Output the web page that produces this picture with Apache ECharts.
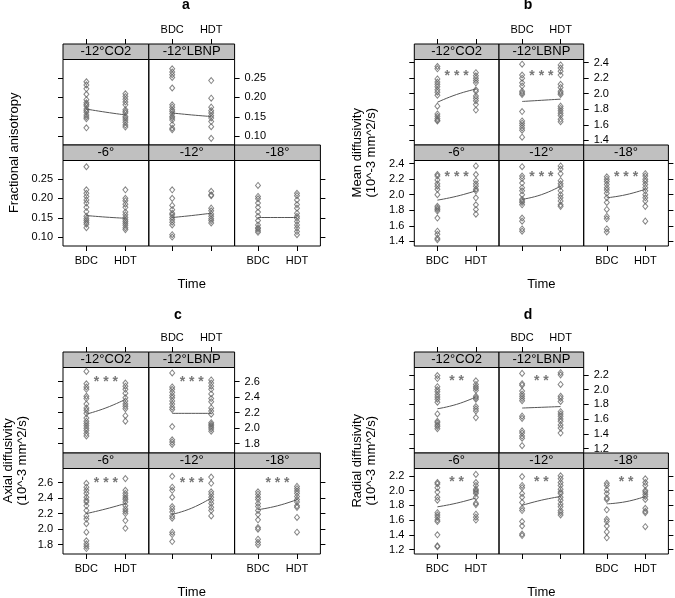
<!DOCTYPE html>
<html>
<head>
<meta charset="utf-8">
<script src="https://cdn.jsdelivr.net/npm/echarts@6/dist/echarts.min.js"></script>
<style>
  html, body { margin: 0; padding: 0; background: #fff; }
  #chart { width: 675px; height: 598px; }
</style>
</head>
<body>
<div id="chart"></div>
<script>
// 条件和时间点
const conditions = ['-12°CO2', '-12°LBNP', '-6°', '-12°', '-18°']
const times = ['BDC', 'HDT']
// 平滑线的取值位置：BDC、中点、HDT
const smoothX = [1, 1.5, 2]

// a: Fractional anisotropy
const faBDC = [
  [0.240, 0.232, 0.222, 0.208, 0.194, 0.186, 0.182, 0.178, 0.170, 0.166, 0.162, 0.155, 0.150, 0.145, 0.122],
  [0.273, 0.265, 0.258, 0.251, 0.224, 0.181, 0.175, 0.168, 0.164, 0.158, 0.151, 0.147, 0.142, 0.130, 0.121, 0.117],
  [0.281, 0.222, 0.213, 0.205, 0.196, 0.188, 0.177, 0.166, 0.154, 0.148, 0.143, 0.138, 0.134, 0.125],
  [0.222, 0.200, 0.182, 0.171, 0.162, 0.158, 0.151, 0.145, 0.139, 0.132, 0.107, 0.101],
  [0.233, 0.205, 0.199, 0.188, 0.177, 0.165, 0.154, 0.143, 0.132, 0.125, 0.122, 0.117, 0.113]
]
const faHDT = [
  [0.209, 0.202, 0.195, 0.188, 0.181, 0.168, 0.164, 0.160, 0.151, 0.147, 0.142, 0.136, 0.129, 0.124],
  [0.243, 0.198, 0.175, 0.166, 0.160, 0.153, 0.147, 0.138, 0.125, 0.095],
  [0.222, 0.200, 0.194, 0.185, 0.177, 0.165, 0.158, 0.151, 0.145, 0.141, 0.136, 0.131, 0.125, 0.120],
  [0.218, 0.209, 0.207, 0.175, 0.168, 0.160, 0.154, 0.148, 0.143, 0.137],
  [0.213, 0.207, 0.196, 0.184, 0.175, 0.162, 0.154, 0.149, 0.141, 0.132, 0.124, 0.115, 0.107]
]
const faSmooth = [[0.170, 0.162, 0.155], [0.160, 0.155, 0.151], [0.156, 0.152, 0.149], [0.151, 0.156, 0.162], [0.151, 0.151, 0.151]]
const faTicks = [0.10, 0.15, 0.20, 0.25]

// b: Mean diffusivity
const mdBDC = [
  [2.35, 2.32, 2.19, 2.15, 2.12, 2.09, 2.05, 2.02, 1.98, 1.84, 1.74, 1.71, 1.68, 1.66, 1.65],
  [2.38, 2.24, 2.20, 2.14, 2.10, 2.03, 2.01, 1.99, 1.77, 1.65, 1.62, 1.59, 1.56, 1.53, 1.44],
  [2.26, 2.24, 2.19, 2.14, 2.11, 2.07, 2.00, 1.85, 1.83, 1.81, 1.79, 1.70, 1.53, 1.49, 1.44, 1.42],
  [2.36, 2.24, 2.21, 2.15, 2.09, 2.05, 2.00, 1.94, 1.92, 1.90, 1.87, 1.70, 1.66, 1.56, 1.53],
  [2.23, 2.20, 2.17, 2.13, 2.09, 2.06, 2.02, 1.96, 1.90, 1.81, 1.72, 1.69, 1.56, 1.52]
]
const mdHDT = [
  [2.27, 2.23, 2.20, 2.17, 2.14, 2.05, 2.03, 1.97, 1.94, 1.91, 1.86, 1.79],
  [2.37, 2.33, 2.29, 2.24, 2.12, 2.08, 2.03, 2.01, 1.99, 1.84, 1.81, 1.78, 1.75, 1.72, 1.67, 1.64],
  [2.37, 2.26, 2.18, 2.14, 2.11, 2.07, 2.05, 1.96, 1.87, 1.81, 1.75],
  [2.37, 2.33, 2.27, 2.18, 2.14, 2.11, 2.05, 2.00, 1.96, 1.92, 1.87, 1.85],
  [2.27, 2.24, 2.20, 2.17, 2.13, 2.09, 2.05, 2.00, 1.96, 1.92, 1.85, 1.66]
]
const mdSmooth = [[1.89, 1.99, 2.06], [1.90, 1.915, 1.93], [1.93, 1.98, 2.05], [1.94, 2.00, 2.11], [1.96, 2.00, 2.07]]
const mdTicks = [1.4, 1.6, 1.8, 2.0, 2.2, 2.4]
const mdStars = ['* * *', '* * *', '* * *', '* * *', '* * *']

// c: Axial diffusivity
const adBDC = [
  [2.73, 2.57, 2.53, 2.50, 2.41, 2.38, 2.31, 2.26, 2.23, 2.19, 2.13, 2.09, 2.06, 2.03, 2.00, 1.97, 1.93, 1.90],
  [2.71, 2.53, 2.50, 2.46, 2.42, 2.39, 2.35, 2.31, 2.27, 2.24, 2.02, 1.85, 1.82, 1.79],
  [2.59, 2.54, 2.50, 2.46, 2.41, 2.37, 2.35, 2.30, 2.24, 2.17, 2.13, 2.07, 1.96, 1.85, 1.81, 1.78, 1.75],
  [2.68, 2.54, 2.50, 2.41, 2.29, 2.26, 2.22, 2.17, 2.14, 1.96, 1.93, 1.84],
  [2.48, 2.45, 2.41, 2.38, 2.33, 2.29, 2.24, 2.19, 2.12, 2.02, 2.00, 1.87, 1.83, 1.80]
]
const adHDT = [
  [2.58, 2.54, 2.50, 2.45, 2.39, 2.35, 2.31, 2.28, 2.25, 2.16, 2.09],
  [2.62, 2.58, 2.54, 2.50, 2.44, 2.38, 2.34, 2.26, 2.22, 2.18, 2.07, 2.05, 2.03, 2.01, 1.99, 1.96],
  [2.65, 2.50, 2.46, 2.43, 2.40, 2.38, 2.35, 2.30, 2.26, 2.23, 2.20, 2.11, 2.01],
  [2.67, 2.59, 2.48, 2.45, 2.41, 2.37, 2.33, 2.28, 2.24, 2.17],
  [2.55, 2.52, 2.49, 2.46, 2.42, 2.38, 2.35, 2.30, 2.28, 2.15, 1.96]
]
const adSmooth = [[2.18, 2.26, 2.37], [2.19, 2.19, 2.19], [2.20, 2.26, 2.33], [2.19, 2.27, 2.40], [2.25, 2.30, 2.38]]
const adTicks = [1.8, 2.0, 2.2, 2.4, 2.6]
const adStars = ['* * *', '* * *', '* * *', '* * *', '* * *']

// d: Radial diffusivity
const rdBDC = [
  [2.19, 2.15, 2.04, 2.00, 1.97, 1.93, 1.90, 1.87, 1.83, 1.67, 1.57, 1.55, 1.52, 1.50, 1.47],
  [2.22, 2.08, 2.06, 1.98, 1.94, 1.91, 1.88, 1.85, 1.64, 1.61, 1.44, 1.41, 1.37, 1.34, 1.24],
  [2.11, 2.09, 2.04, 1.98, 1.91, 1.87, 1.70, 1.67, 1.64, 1.60, 1.58, 1.40, 1.25, 1.24],
  [2.19, 2.07, 2.04, 1.96, 1.91, 1.84, 1.76, 1.73, 1.58, 1.52, 1.41, 1.39],
  [2.10, 2.07, 2.01, 1.96, 1.90, 1.88, 1.74, 1.61, 1.58, 1.52, 1.44, 1.36]
]
const rdHDT = [
  [2.12, 2.07, 2.04, 2.02, 1.99, 1.91, 1.89, 1.87, 1.77, 1.74, 1.71, 1.62],
  [2.23, 2.20, 2.07, 1.91, 1.88, 1.84, 1.70, 1.67, 1.64, 1.60, 1.57, 1.52, 1.48, 1.41],
  [2.22, 2.11, 2.07, 2.02, 2.00, 1.98, 1.96, 1.91, 1.83, 1.81, 1.68, 1.64, 1.60],
  [2.20, 2.16, 2.11, 2.07, 2.02, 1.98, 1.96, 1.91, 1.87, 1.82, 1.78, 1.73, 1.70, 1.67],
  [2.16, 2.11, 2.07, 2.00, 1.98, 1.95, 1.92, 1.88, 1.76, 1.72, 1.70, 1.51]
]
const rdSmooth = [[1.74, 1.80, 1.90], [1.75, 1.76, 1.77], [1.78, 1.83, 1.90], [1.80, 1.87, 1.92], [1.82, 1.85, 1.92]]
const rdTicks = [1.2, 1.4, 1.6, 1.8, 2.0, 2.2]
const rdStars = ['* *', '* *', '* *', '* *', '* *']

// 布局
const STRIP = 15.5
const PLOT = 85.5
const FONT = 'Liberation Sans'

const panels = [
  { title: 'a', titleX: 186, titleY: 5.5, left: 63, top: 44, w: 85.8, ylab: 'Fractional anisotropy', ylabX: 14,
    bdc: faBDC, hdt: faHDT, smooth: faSmooth, ticks: faTicks, digits: 2, min: 0.078, max: 0.297, stars: null, starY: 0 },
  { title: 'b', titleX: 528, titleY: 5.5, left: 414.3, top: 44, w: 84.7, ylab: 'Mean diffusivity\n(10^-3 mm^2/s)', ylabX: 364,
    bdc: mdBDC, hdt: mdHDT, smooth: mdSmooth, ticks: mdTicks, digits: 1, min: 1.34, max: 2.44, stars: mdStars, starY: 2.23 },
  { title: 'c', titleX: 178, titleY: 315.5, left: 63, top: 352, w: 85.8, ylab: 'Axial diffusivity\n(10^-3 mm^2/s)', ylabX: 15,
    bdc: adBDC, hdt: adHDT, smooth: adSmooth, ticks: adTicks, digits: 1, min: 1.68, max: 2.78, stars: adStars, starY: 2.59 },
  { title: 'd', titleX: 528, titleY: 315.5, left: 414.3, top: 352, w: 84.7, ylab: 'Radial diffusivity\n(10^-3 mm^2/s)', ylabX: 364,
    bdc: rdBDC, hdt: rdHDT, smooth: rdSmooth, ticks: rdTicks, digits: 1, min: 1.14, max: 2.30, stars: rdStars, starY: 2.12 }
]

const grid = []
const xAxis = []
const yAxis = []
const series = []
const graphic = []

const pointStyle = { color: 'rgba(0,0,0,0)', borderColor: '#666', borderWidth: 1 }

panels.forEach(p => {
  // 标题、纵轴名、横轴名
  graphic.push({
    type: 'text', x: p.titleX, y: p.titleY,
    style: { text: p.title, fontFamily: FONT, fontSize: 14, fontWeight: 'bold', fill: '#000', align: 'center', verticalAlign: 'middle' }
  })
  graphic.push({
    type: 'text', x: p.ylabX, y: p.top + STRIP + PLOT + STRIP / 2, rotation: Math.PI / 2,
    style: { text: p.ylab, fontFamily: FONT, fontSize: 13, lineHeight: 14, fill: '#000', align: 'center', verticalAlign: 'middle' }
  })
  graphic.push({
    type: 'text', x: p.left + 1.5 * p.w, y: p.top + 240,
    style: { text: 'Time', fontFamily: FONT, fontSize: 13, fill: '#000', align: 'center', verticalAlign: 'middle' }
  })

  conditions.forEach((cond, i) => {
    const row = i < 2 ? 0 : 1
    const col = row === 0 ? i : i - 2
    const lastCol = row === 0 ? 1 : 2
    const gl = p.left + col * p.w
    const gt = p.top + STRIP + row * (PLOT + STRIP)
    const gi = grid.length

    grid.push({ left: gl, top: gt, width: p.w, height: PLOT, show: true, borderColor: '#000', borderWidth: 1, backgroundColor: 'transparent' })

    // 条带
    graphic.push({
      type: 'rect', shape: { x: gl, y: gt - STRIP, width: p.w, height: STRIP },
      style: { fill: '#c0c0c0', stroke: '#000', lineWidth: 1 }
    })
    graphic.push({
      type: 'text', x: gl + p.w / 2, y: gt - STRIP / 2,
      style: { text: cond, fontFamily: FONT, fontSize: 13, fill: '#000', align: 'center', verticalAlign: 'middle' }
    })

    const xLabels = row === 0 ? col === 1 : col !== 1
    xAxis.push({
      gridIndex: gi, type: 'value', min: 0.4, max: 2.6,
      position: row === 0 ? 'top' : 'bottom', offset: row === 0 ? STRIP : 0,
      axisLine: { show: false }, splitLine: { show: false },
      axisTick: { show: true, customValues: [1, 2], length: 5, lineStyle: { color: '#000' } },
      axisLabel: {
        show: xLabels, customValues: [1, 2], formatter: v => times[Math.round(v) - 1],
        margin: 9, fontSize: 11, fontFamily: FONT, color: '#000'
      }
    })

    const yTicks = col === 0 || col === lastCol
    const yLabels = (row === 0 && col === 1) || (row === 1 && col === 0)
    yAxis.push({
      gridIndex: gi, type: 'value', min: p.min, max: p.max,
      position: col === 0 ? 'left' : 'right',
      axisLine: { show: false }, splitLine: { show: false },
      axisTick: { show: yTicks, customValues: p.ticks, length: 5, lineStyle: { color: '#000' } },
      axisLabel: {
        show: yLabels, customValues: p.ticks, formatter: v => v.toFixed(p.digits),
        margin: 10, fontSize: 11, fontFamily: FONT, color: '#000'
      }
    })

    series.push({
      type: 'scatter', xAxisIndex: gi, yAxisIndex: gi, symbol: 'diamond', symbolSize: [5, 6],
      itemStyle: pointStyle, data: p.bdc[i].map(v => [1, v]), silent: true
    })
    series.push({
      type: 'scatter', xAxisIndex: gi, yAxisIndex: gi, symbol: 'diamond', symbolSize: [5, 6],
      itemStyle: pointStyle, data: p.hdt[i].map(v => [2, v]), silent: true
    })
    series.push({
      type: 'line', xAxisIndex: gi, yAxisIndex: gi, smooth: true, symbol: 'none',
      lineStyle: { color: '#555', width: 1 }, data: smoothX.map((x, k) => [x, p.smooth[i][k]]), silent: true
    })
    if (p.stars) {
      series.push({
        type: 'scatter', xAxisIndex: gi, yAxisIndex: gi, symbolSize: 1,
        itemStyle: { color: 'rgba(0,0,0,0)' }, silent: true,
        label: { show: true, position: 'inside', formatter: p.stars[i], fontSize: 14, fontWeight: 'bold', fontFamily: FONT, color: '#555' },
        data: [[1.5, p.starY]]
      })
    }
  })
})

const chart = echarts.init(document.getElementById('chart'))
chart.setOption({
  animation: false,
  grid, xAxis, yAxis, series, graphic
})
</script>
</body>
</html>
